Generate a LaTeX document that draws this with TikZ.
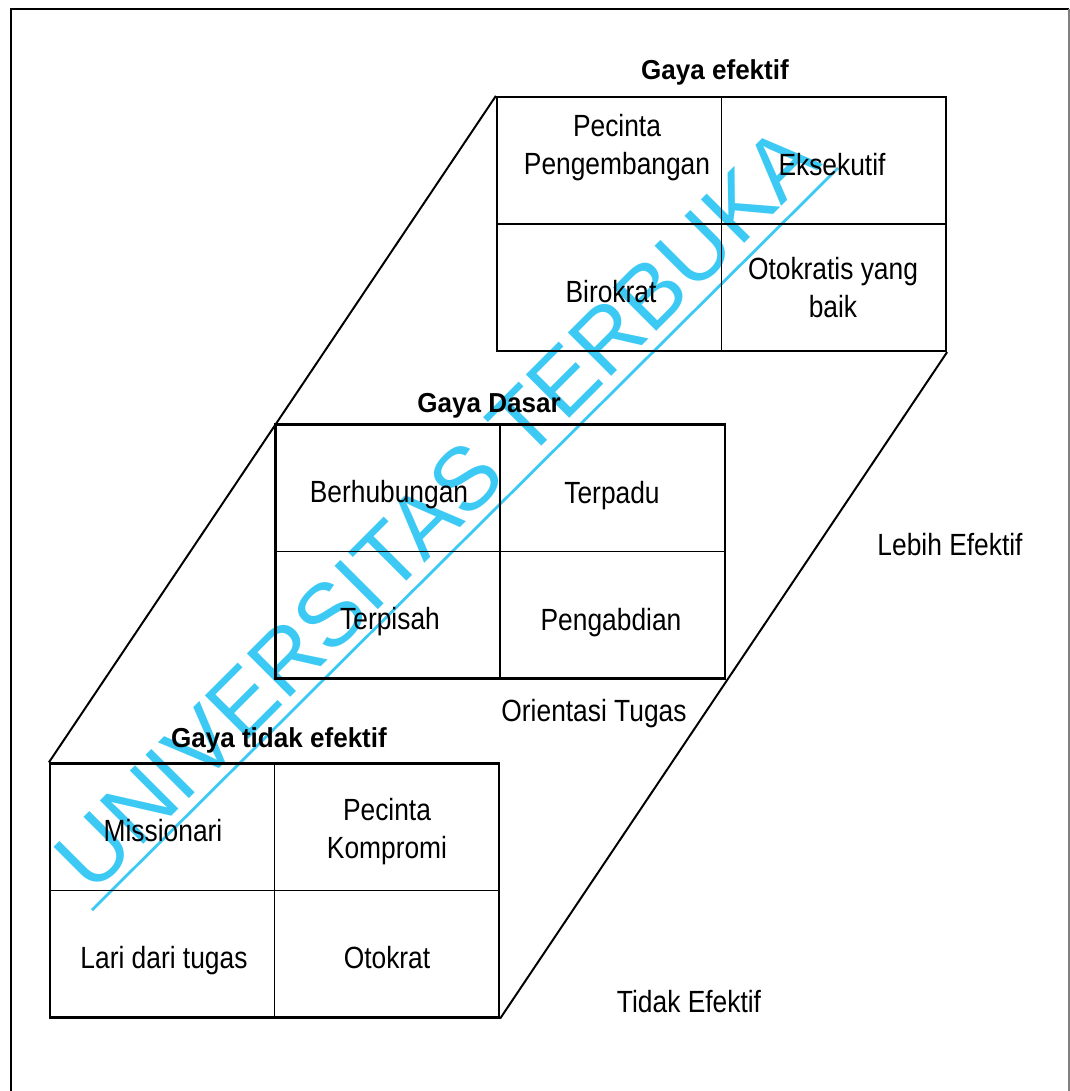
\documentclass[tikz,border=0pt]{standalone}
\usepackage{fontspec}
\setmainfont{Liberation Sans}[FakeStretch=0.86]
\newfontfamily\headfont{Liberation Sans}[FakeStretch=0.95]
\newfontfamily\markfont{Liberation Sans}
\usetikzlibrary{positioning}
\definecolor{markblue}{RGB}{60,202,245}

\begin{document}
\begin{tikzpicture}[
    x=0.025cm, y=-0.025cm,
    quad/.style={draw, line width=1.5pt, minimum width=11.225cm, minimum height=6.35cm, inner sep=0pt},
    divider/.style={line width=1.2pt},
    slant/.style={line width=1.4pt},
    celltext/.style={anchor=base, align=center, inner sep=0pt, font=\fontsize{21.8}{27}\selectfont},
    headtext/.style={anchor=base, inner sep=0pt, font=\headfont\bfseries\fontsize{19.5}{24}\selectfont},
    wmark/.style={anchor=base, inner sep=0pt, text=markblue, font=\markfont\fontsize{63.4}{64}\selectfont}
]
\useasboundingbox (0,0) rectangle (1070,1091);
\draw[line width=1.4pt] (11,1091) -- (11,9) -- (1069,9);
\draw[gray, line width=1pt] (1069,9) -- (1069,1091);

\node[wmark, rotate=45] (wm) at (458,530) {UNIVERSITAS TERBUKA};
\coordinate (ulA) at (92,910);
\coordinate (ulB) at (838,168);
\draw[markblue, line width=2pt] (ulA) -- (ulB);

\node[quad] (efektif) at (721.5,224) {};
\node[quad] (dasar) at (500,551.5) {};
\node[quad] (tidak) at (274.5,890.5) {};
\foreach \b in {efektif,dasar,tidak}
    \draw[divider] (\b.north) -- (\b.south) (\b.west) -- (\b.east);

\draw[slant] (tidak.north west) -- (efektif.north west);
\draw[slant] (tidak.south east) -- (efektif.south east);

\node[headtext] (hefektif) at (715,80) {Gaya efektif};
\node[headtext] (hdasar) at (489,412) {Gaya Dasar};
\node[headtext] (htidak) at (279,747) {Gaya tidak efektif};

\node[celltext] (pengembangan) at (617,174) {Pecinta\\Pengembangan};
\node[celltext] (eksekutif) at (832,175) {Eksekutif};
\node[celltext] (birokrat) at (611,302) {Birokrat};
\node[celltext] (otokratis) at (833,317) {Otokratis yang\\baik};

\node[celltext] (berhubungan) at (389,502) {Berhubungan};
\node[celltext] (terpadu) at (612,503) {Terpadu};
\node[celltext] (terpisah) at (390,629) {Terpisah};
\node[celltext] (pengabdian) at (611,630) {Pengabdian};

\node[celltext] (missionari) at (163,841) {Missionari};
\node[celltext] (kompromi) at (387,858) {Pecinta\\Kompromi};
\node[celltext] (lari) at (164,968) {Lari dari tugas};
\node[celltext] (otokrat) at (387,968) {Otokrat};

\node[celltext] (orientasi) at (594,721) {Orientasi Tugas};
\node[celltext] (lebih) at (950,555) {Lebih Efektif};
\node[celltext] (tidakef) at (689,1012) {Tidak Efektif};
\end{tikzpicture}
\end{document}
